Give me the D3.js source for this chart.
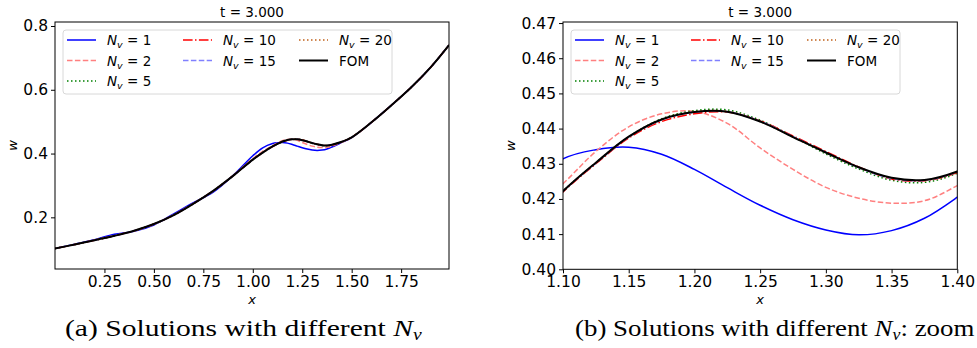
<!DOCTYPE html>
<html>
<head>
<meta charset="utf-8">
<script src="https://cdn.jsdelivr.net/npm/d3@7"></script>
<style>
  body { margin: 0; background: #fff; }
  text { font-family: "DejaVu Sans", sans-serif; }
</style>
</head>
<body>
<div id="chart"></div>
<script>
// shared x grid (denser in the zoom window)
var xs = [0, 0.1, 0.2, 0.3, 0.4, 0.5, 0.6, 0.7, 0.8, 0.9, 1.0, 1.05,
  1.1, 1.125, 1.15, 1.175, 1.2, 1.225, 1.25, 1.275, 1.3, 1.325, 1.35, 1.375, 1.4,
  1.45, 1.5, 1.6, 1.7, 1.8, 1.9, 1.992];

var fom  = [0.102, 0.115, 0.128, 0.142, 0.158, 0.179, 0.207, 0.243, 0.283, 0.330, 0.381, 0.403,
  0.4222, 0.4303, 0.4377, 0.4426, 0.4447, 0.4448, 0.4420, 0.4376, 0.4332, 0.4290, 0.4260, 0.4254, 0.4278,
  0.437, 0.451, 0.498, 0.551, 0.607, 0.671, 0.740];
var nv1  = [0.102, 0.116, 0.130, 0.147, 0.156, 0.176, 0.211, 0.246, 0.279, 0.331, 0.393, 0.418,
  0.4314, 0.4340, 0.4347, 0.4327, 0.4284, 0.4232, 0.4182, 0.4141, 0.4112, 0.4098, 0.4110, 0.4145, 0.4205,
  0.435, 0.450, 0.498, 0.551, 0.607, 0.671, 0.740];
var nv2  = [0.102, 0.115, 0.129, 0.143, 0.157, 0.178, 0.208, 0.244, 0.282, 0.331, 0.384, 0.407,
  0.4243, 0.4335, 0.4405, 0.4442, 0.4449, 0.4415, 0.4345, 0.4284, 0.4233, 0.4202, 0.4188, 0.4195, 0.4238,
  0.435, 0.451, 0.498, 0.551, 0.607, 0.671, 0.740];
var nv5  = [0.102, 0.115, 0.128, 0.142, 0.158, 0.179, 0.207, 0.243, 0.283, 0.330, 0.381, 0.403,
  0.4222, 0.4301, 0.4376, 0.4428, 0.4451, 0.4453, 0.4424, 0.4377, 0.4328, 0.4285, 0.4253, 0.4247, 0.4273,
  0.437, 0.451, 0.498, 0.551, 0.607, 0.671, 0.740];
var nv10 = [0.102, 0.115, 0.128, 0.142, 0.158, 0.179, 0.207, 0.243, 0.283, 0.330, 0.381, 0.403,
  0.4220, 0.4300, 0.4373, 0.4420, 0.4442, 0.4447, 0.4422, 0.4379, 0.4335, 0.4291, 0.4257, 0.4252, 0.4275,
  0.437, 0.451, 0.498, 0.551, 0.607, 0.671, 0.740];
var nv15 = [0.102, 0.115, 0.128, 0.142, 0.158, 0.179, 0.207, 0.243, 0.283, 0.330, 0.381, 0.403,
  0.4222, 0.4302, 0.4376, 0.4425, 0.4447, 0.4448, 0.4421, 0.4377, 0.4332, 0.4289, 0.4258, 0.4253, 0.4277,
  0.437, 0.451, 0.498, 0.551, 0.607, 0.671, 0.740];
var nv20 = [0.102, 0.115, 0.128, 0.142, 0.158, 0.179, 0.207, 0.243, 0.283, 0.330, 0.381, 0.403,
  0.4222, 0.4303, 0.4377, 0.4426, 0.4448, 0.4449, 0.4420, 0.4376, 0.4331, 0.4289, 0.4259, 0.4253, 0.4277,
  0.437, 0.451, 0.498, 0.551, 0.607, 0.671, 0.740];

var seriesNames = ["1", "2", "5", "10", "15", "20", "FOM"];

var xTicksA = [0.25, 0.50, 0.75, 1.00, 1.25, 1.50, 1.75];
var yTicksA = [0.2, 0.4, 0.6, 0.8];
var xTicksB = [1.10, 1.15, 1.20, 1.25, 1.30, 1.35, 1.40];
var yTicksB = [0.40, 0.41, 0.42, 0.43, 0.44, 0.45, 0.46, 0.47];

// line styles (matplotlib-like)
var styles = [
  { values: nv1,  color: "blue",    dash: null,              width: 1.5 },
  { values: nv2,  color: "#ff8080", dash: "5.5,2.4",         width: 1.5 },
  { values: nv5,  color: "green",   dash: "1.5,2.5",         width: 1.5 },
  { values: nv10, color: "red",     dash: "9.6,2.4,1.5,2.4", width: 1.5 },
  { values: nv15, color: "#8080ff", dash: "5.5,2.4",         width: 1.5 },
  { values: nv20, color: "#c0601a", dash: "1.5,2.5",         width: 1.5 },
  { values: fom,  color: "black",   dash: null,              width: 2 }
];

var W = 977, H = 348;
var svg = d3.select("#chart").append("svg")
  .attr("width", W).attr("height", H)
  .style("background", "#fff");

var panels = [
  { left: 55, right: 449, top: 22, bottom: 269, xDomain: [0, 1.992], yDomain: [0.038, 0.8125],
    xTicks: xTicksA, yTicks: yTicksA, xFmt: ".2f", yFmt: ".1f", ylabOff: 42,
    caption: "(a) Solutions with different ", capSuffix: "", capX: 65, capW: 358, id: "a" },
  { left: 563, right: 957.3, top: 22, bottom: 269.3, xDomain: [1.1, 1.4], yDomain: [0.40, 0.4703],
    xTicks: xTicksB, yTicks: yTicksB, xFmt: ".2f", yFmt: ".2f", ylabOff: 52,
    caption: "(b) Solutions with different ", capSuffix: ": zoom", capX: 575, capW: 400, id: "b" }
];

// legend slot positions (col, row) for ncol=3
var slots = [[0, 0], [0, 1], [0, 2], [1, 0], [1, 1], [2, 0], [2, 1]];

panels.forEach(function(p) {
  var x = d3.scaleLinear().domain(p.xDomain).range([p.left, p.right]);
  var y = d3.scaleLinear().domain(p.yDomain).range([p.bottom, p.top]);

  svg.append("clipPath").attr("id", "clip-" + p.id)
    .append("rect")
    .attr("x", p.left).attr("y", p.top)
    .attr("width", p.right - p.left).attr("height", p.bottom - p.top);

  // axes
  var xAxis = svg.append("g")
    .attr("transform", "translate(0," + p.bottom + ")")
    .call(d3.axisBottom(x).tickValues(p.xTicks).tickFormat(d3.format(p.xFmt)).tickSizeOuter(0).tickSize(4).tickPadding(3));
  var yAxis = svg.append("g")
    .attr("transform", "translate(" + p.left + ",0)")
    .call(d3.axisLeft(y).tickValues(p.yTicks).tickFormat(d3.format(p.yFmt)).tickSizeOuter(0).tickSize(4).tickPadding(3));
  [xAxis, yAxis].forEach(function(g) {
    g.attr("font-family", null).attr("font-size", null);
    g.select(".domain").remove();
    g.selectAll("text").style("font-size", "15.5px").attr("fill", "#000")
      .style("font-family", "'DejaVu Sans', sans-serif");
    g.selectAll("line").attr("stroke", "#000");
  });

  // lines
  var line = d3.line()
    .x(function(d) { return x(d[0]); })
    .y(function(d) { return y(d[1]); })
    .curve(d3.curveCatmullRom.alpha(0.5));

  var gl = svg.append("g").attr("clip-path", "url(#clip-" + p.id + ")");
  styles.forEach(function(s) {
    gl.append("path")
      .datum(xs.map(function(v, i) { return [v, s.values[i]]; }))
      .attr("d", line)
      .attr("fill", "none")
      .attr("stroke", s.color)
      .attr("stroke-width", s.width)
      .attr("stroke-dasharray", s.dash);
  });

  // frame
  svg.append("rect")
    .attr("x", p.left).attr("y", p.top)
    .attr("width", p.right - p.left).attr("height", p.bottom - p.top)
    .attr("fill", "none").attr("stroke", "#000").attr("stroke-width", 1);

  // title and labels
  var cx = (p.left + p.right) / 2;
  svg.append("text").attr("x", cx).attr("y", 17)
    .attr("text-anchor", "middle").style("font-size", "13.5px").text("t = 3.000");
  svg.append("text").attr("x", cx).attr("y", 304)
    .attr("text-anchor", "middle").style("font-size", "13px").style("font-style", "italic").text("x");
  svg.append("text")
    .attr("transform", "translate(" + (p.left - p.ylabOff + 4) + "," + ((p.top + p.bottom) / 2) + ") rotate(-90)")
    .attr("text-anchor", "middle").style("font-size", "13px").style("font-style", "italic").text("w");

  // legend
  var lx = p.left + 8, ly = p.top + 8;
  svg.append("rect")
    .attr("x", lx).attr("y", ly).attr("width", 329).attr("height", 64)
    .attr("rx", 3).attr("fill", "#fff").attr("fill-opacity", 0.8)
    .attr("stroke", "#d8d8d8").attr("stroke-width", 1);
  styles.forEach(function(s, i) {
    var col = slots[i][0], row = slots[i][1];
    var hx = lx + 4 + col * 116, hy = ly + 10 + row * 20.5;
    svg.append("line")
      .attr("x1", hx).attr("x2", hx + 29).attr("y1", hy).attr("y2", hy)
      .attr("stroke", s.color).attr("stroke-width", s.width)
      .attr("stroke-dasharray", s.dash);
    var t = svg.append("text").attr("x", hx + 40).attr("y", hy + 5).style("font-size", "13.5px");
    if (seriesNames[i] === "FOM") {
      t.text("FOM");
    } else {
      t.append("tspan").style("font-style", "italic").text("N");
      t.append("tspan").style("font-style", "italic").style("font-size", "9.5px").attr("dy", 3).text("v");
      t.append("tspan").attr("dy", -3).text(" = " + seriesNames[i]);
    }
  });

  // caption (serif, stretched to the width of the original)
  var capG = svg.append("g");
  var cap = capG.append("text").attr("x", 0).attr("y", 0)
    .style("font-family", "'Liberation Serif', 'DejaVu Serif', serif").style("font-size", "24px");
  cap.append("tspan").text(p.caption);
  cap.append("tspan").style("font-style", "italic").text("N");
  cap.append("tspan").style("font-style", "italic").style("font-size", "16px").attr("dy", 4).text("v");
  cap.append("tspan").attr("dy", -4).text(p.capSuffix);
  var bb = cap.node().getBBox();
  var sx = p.capW / bb.width;
  capG.attr("transform", "translate(" + (p.capX - bb.x * sx) + ",336) scale(" + sx + ",1)");
});
</script>
</body>
</html>
